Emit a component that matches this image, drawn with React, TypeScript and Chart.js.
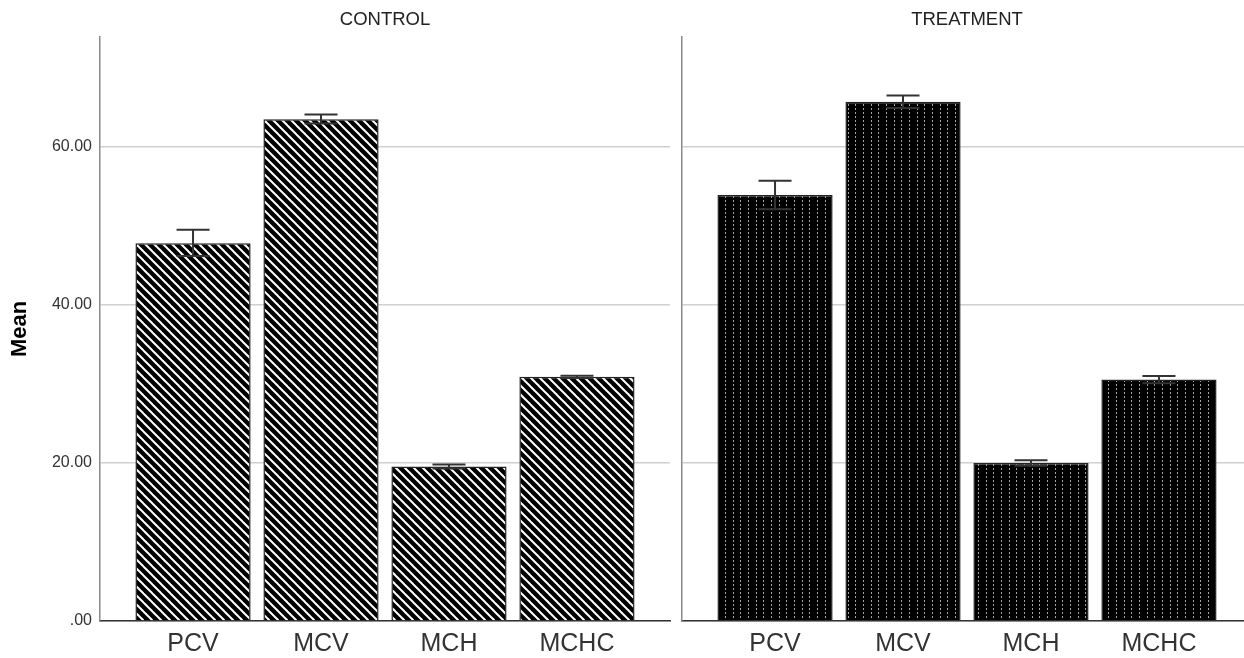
import React, { useEffect, useRef } from 'react';
import { Chart, registerables } from 'chart.js';

Chart.register(...registerables);

const categories = ['PCV', 'MCV', 'MCH', 'MCHC'];
const panelTitles = ['CONTROL', 'TREATMENT'];

const controlMeans = [47.8, 63.5, 19.55, 30.9];
const controlLow = [46.2, 62.95, 19.3, 30.75];
const controlHigh = [49.5, 64.1, 19.8, 31.05];

const treatmentMeans = [53.9, 65.7, 20.0, 30.55];
const treatmentLow = [52.1, 64.9, 19.65, 30.1];
const treatmentHigh = [55.7, 66.5, 20.35, 31.0];

const yTicks = [0, 20, 40, 60];
const yMax = 73.9;

const FONT = '"Liberation Sans", Arial, sans-serif';

function makeStripePattern(): CanvasPattern | string {
  const c = document.createElement('canvas');
  c.width = 9;
  c.height = 9;
  const ctx = c.getContext('2d');
  if (!ctx) return '#000';
  ctx.fillStyle = '#000';
  ctx.fillRect(0, 0, 9, 9);
  ctx.strokeStyle = '#fff';
  ctx.lineWidth = 2;
  for (let k = -1; k <= 1; k++) {
    ctx.beginPath();
    ctx.moveTo(k * 9 - 1, -1);
    ctx.lineTo(k * 9 + 10, 10);
    ctx.stroke();
  }
  return ctx.createPattern(c, 'repeat') || '#000';
}

function makeDotPattern(): CanvasPattern | string {
  const c = document.createElement('canvas');
  c.width = 23;
  c.height = 4;
  const ctx = c.getContext('2d');
  if (!ctx) return '#000';
  ctx.fillStyle = '#000';
  ctx.fillRect(0, 0, 23, 4);
  ctx.fillStyle = '#a5a5a5';
  [3, 11, 18].forEach((x) => ctx.fillRect(x, 0, 1, 2));
  return ctx.createPattern(c, 'repeat') || '#000';
}

type PanelProps = {
  title: string;
  means: number[];
  low: number[];
  high: number[];
  kind: 'stripe' | 'dot';
  showY: boolean;
  left: number;
  width: number;
};

function Panel({ title, means, low, high, kind, showY, left, width }: PanelProps) {
  const ref = useRef<HTMLCanvasElement | null>(null);

  useEffect(() => {
    if (!ref.current) return;
    const fill = kind === 'stripe' ? makeStripePattern() : makeDotPattern();

    const errorBars = {
      id: 'errorBars',
      afterDatasetsDraw(chart: any) {
        const ctx = chart.ctx;
        const meta = chart.getDatasetMeta(0);
        const y = chart.scales.y;
        ctx.save();
        ctx.strokeStyle = '#333';
        ctx.lineWidth = 2;
        meta.data.forEach((bar: any, i: number) => {
          const x = bar.x;
          const yh = y.getPixelForValue(high[i]);
          const yl = y.getPixelForValue(low[i]);
          ctx.beginPath();
          ctx.moveTo(x, yh);
          ctx.lineTo(x, yl);
          ctx.moveTo(x - 16.5, yh);
          ctx.lineTo(x + 16.5, yh);
          ctx.moveTo(x - 16.5, yl);
          ctx.lineTo(x + 16.5, yl);
          ctx.stroke();
        });
        ctx.restore();
      },
    };

    const panelTitle = {
      id: 'panelTitle',
      afterDraw(chart: any) {
        const ctx = chart.ctx;
        const a = chart.chartArea;
        ctx.save();
        ctx.font = `18.5px ${FONT}`;
        ctx.fillStyle = '#222';
        ctx.textAlign = 'center';
        ctx.textBaseline = 'middle';
        ctx.fillText(title, (a.left + a.right) / 2, 20);
        ctx.restore();
      },
    };

    const chart = new Chart(ref.current, {
      type: 'bar',
      data: {
        datasets: [
          {
            data: means.map((v, i) => ({ x: i, y: v })),
            backgroundColor: fill as any,
            borderColor: '#222',
            borderWidth: 1.5,
            barPercentage: 0.9,
            categoryPercentage: 1,
          },
        ],
      },
      options: {
        animation: false,
        responsive: false,
        events: [],
        layout: { padding: { top: 37, right: 6, left: 0, bottom: 0 } },
        plugins: {
          legend: { display: false },
          tooltip: { enabled: false },
        },
        scales: {
          x: {
            type: 'linear',
            offset: false,
            min: -0.727,
            max: 3.727,
            afterBuildTicks: (s: any) => {
              s.ticks = categories.map((_, i) => ({ value: i }));
            },
            afterFit: (s: any) => {
              s.height = 37;
            },
            grid: { display: false, offset: false },
            border: { color: '#333', width: 1.5 },
            ticks: {
              callback: (_v: any, i: number) => categories[i],
              color: '#333',
              font: { family: FONT, size: 25 },
              padding: 0,
              autoSkip: false,
              maxRotation: 0,
            },
          },
          y: {
            min: 0,
            max: yMax,
            afterBuildTicks: (s: any) => {
              s.ticks = yTicks.map((v) => ({ value: v }));
            },
            afterFit: (s: any) => {
              s.width = showY ? 100 : 6;
            },
            grid: { color: '#d0d0d0', lineWidth: 1.5, drawTicks: false },
            border: { color: '#8a8a8a', width: 1.5 },
            ticks: {
              display: showY,
              padding: 8,
              color: '#333',
              font: { family: FONT, size: 16 },
              callback: (v: any) => (v === 0 ? '.00' : Number(v).toFixed(2)),
            },
            title: {
              display: showY,
              text: 'Mean',
              color: '#000',
              font: { family: FONT, size: 22, weight: 'bold' },
              padding: { top: 7, bottom: 0 },
            },
          },
        },
      },
      plugins: [errorBars, panelTitle],
    } as any);

    return () => chart.destroy();
  }, []);

  return (
    <canvas
      ref={ref}
      width={width}
      height={658}
      style={{ position: 'absolute', left, top: 0, width, height: 658, display: 'block' }}
    />
  );
}

export default function App() {
  return (
    <div
      style={{
        position: 'fixed',
        left: 0,
        top: 0,
        width: 1244,
        height: 658,
        overflow: 'hidden',
        background: '#fff',
      }}
    >
      <Panel
        title={panelTitles[0]}
        means={controlMeans}
        low={controlLow}
        high={controlHigh}
        kind="stripe"
        showY={true}
        left={0}
        width={676}
      />
      <Panel
        title={panelTitles[1]}
        means={treatmentMeans}
        low={treatmentLow}
        high={treatmentHigh}
        kind="dot"
        showY={false}
        left={676}
        width={582}
      />
    </div>
  );
}
